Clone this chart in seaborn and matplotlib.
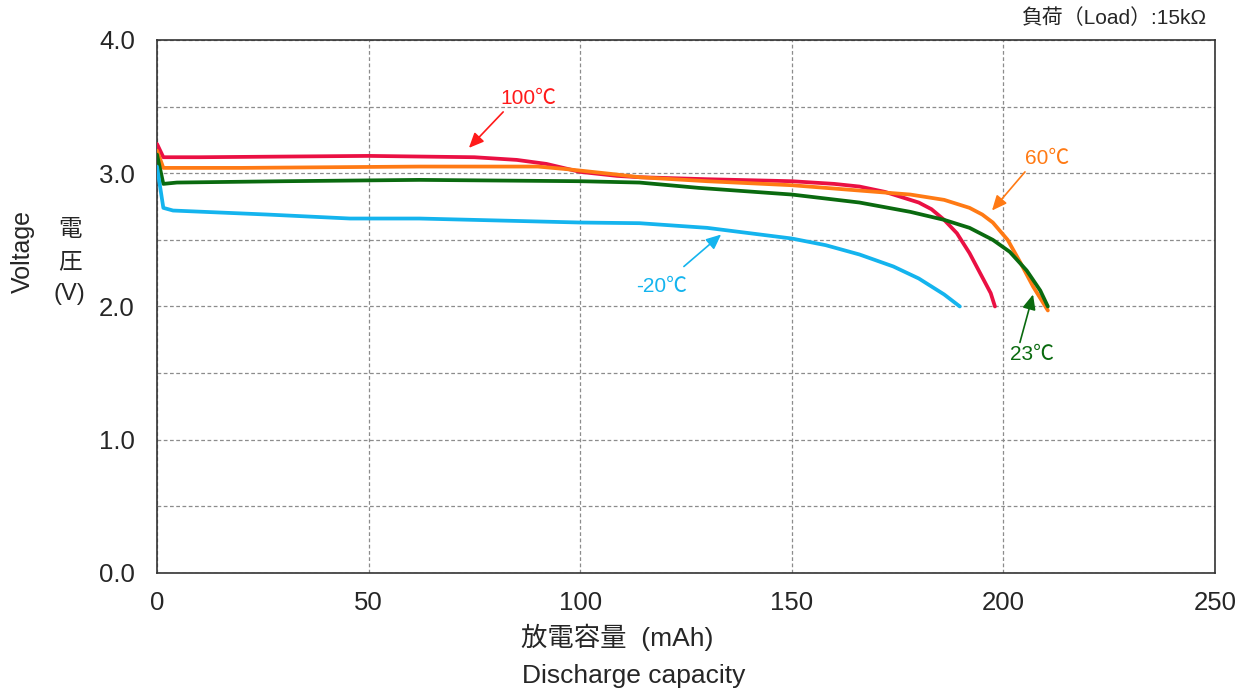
import numpy as np
import pandas as pd
import matplotlib
matplotlib.use("Agg")
import matplotlib.pyplot as plt
import seaborn as sns

# discharge curves (capacity mAh, voltage V)
cap_100 = [0, 1.5, 10, 30, 50, 75, 85, 92, 96, 100, 108.7, 114, 130, 150, 160, 166,
           172, 176, 180, 183, 186, 189, 192, 195, 197, 198]
volt_100 = [3.22, 3.12, 3.12, 3.125, 3.13, 3.12, 3.10, 3.07, 3.04, 3.01, 2.98, 2.97, 2.955, 2.94, 2.92, 2.90,
            2.86, 2.82, 2.78, 2.73, 2.65, 2.55, 2.40, 2.22, 2.10, 2.00]

cap_60 = [0, 1.5, 20, 62, 90, 97, 108.7, 114, 130, 150, 166, 178, 186, 192, 195,
          197.5, 201, 204, 207, 210.5]
volt_60 = [3.17, 3.04, 3.04, 3.05, 3.05, 3.03, 2.99, 2.97, 2.94, 2.91, 2.87, 2.84, 2.80, 2.74, 2.69,
           2.63, 2.50, 2.33, 2.15, 1.97]

cap_23 = [0, 1.5, 4.7, 30, 62, 100, 114, 128, 150, 166, 178, 186, 192, 197.5,
          201.5, 205.5, 208.7, 210.5]
volt_23 = [3.14, 2.92, 2.93, 2.94, 2.95, 2.94, 2.93, 2.89, 2.84, 2.78, 2.71, 2.65, 2.59, 2.50,
           2.41, 2.27, 2.12, 2.00]

cap_m20 = [0, 1.5, 3.8, 26, 45.6, 62, 100, 114, 130, 150, 158, 166, 174, 180, 186, 189.7]
volt_m20 = [3.05, 2.74, 2.72, 2.69, 2.66, 2.66, 2.63, 2.625, 2.59, 2.51, 2.46, 2.39, 2.30, 2.21, 2.09, 2.00]

labels = ["100℃", "60℃", "23℃", "-20℃"]
colors = ["#ea1043", "#ff7a14", "#0a6a0f", "#14b4ee"]
text_colors = ["#ff1a1a", "#ff7a14", "#0a6a0f", "#14b4ee"]

# annotation placement: text (x, y), arrow tail, arrow head
ann_text = [(87.7, 3.56), (210.3, 3.11), (206.8, 1.64), (119.3, 2.15)]
ann_tail = [(81.8, 3.46), (205.1, 3.01), (203.9, 1.73), (124.5, 2.30)]
ann_head = [(73.7, 3.19), (197.3, 2.72), (207.0, 2.09), (133.3, 2.54)]

frames = []
for lab, c, v in zip(labels, [cap_100, cap_60, cap_23, cap_m20],
                     [volt_100, volt_60, volt_23, volt_m20]):
    frames.append(pd.DataFrame({"capacity": c, "voltage": v, "temp": lab}))
df = pd.concat(frames, ignore_index=True)

sns.set_style("white")
plt.rcParams["font.family"] = ["Liberation Sans", "Noto Sans CJK JP", "DejaVu Sans"]

fig = plt.figure(figsize=(12.44, 6.88), dpi=100)
ax = fig.add_axes([0.1262, 0.1672, 0.8505, 0.7747])

sns.lineplot(data=df, x="capacity", y="voltage", hue="temp", hue_order=labels,
             palette=dict(zip(labels, colors)), sort=False, estimator=None,
             linewidth=2.7, legend=False, ax=ax, zorder=3,
             solid_joinstyle="round", solid_capstyle="round")

ax.set_xlim(0, 250)
ax.set_ylim(0, 4.0)
ax.set_xticks(np.arange(0, 251, 50))
ax.set_yticks(np.arange(0, 4.01, 0.5))
ax.set_yticklabels([f"{t:.1f}" if t % 1 == 0 else "" for t in np.arange(0, 4.01, 0.5)])
ax.tick_params(axis="both", labelsize=18.5, length=0)
ax.tick_params(axis="y", pad=16)
ax.tick_params(axis="x", pad=13)
ax.grid(True, color="#8c8c8c", linestyle=(0, (3, 2)), linewidth=0.9)
for s in ax.spines.values():
    s.set_color("#333333")
    s.set_linewidth(1.2)
ax.set_xlabel("")
ax.set_ylabel("")

for lab, tc, t, tail, head in zip(labels, text_colors, ann_text, ann_tail, ann_head):
    ax.text(t[0], t[1], lab, color=tc, fontsize=15, ha="center", va="center")
    ax.annotate("", xy=head, xytext=tail,
                arrowprops=dict(arrowstyle="-|>,head_length=0.9,head_width=0.4",
                                color=tc, lw=1.2, shrinkA=0, shrinkB=0))

fig.text(0.9702, 0.974, "負荷（Load）:15kΩ", fontsize=15, ha="right", va="center")
fig.text(0.018, 0.635, "Voltage", fontsize=18, rotation=90, ha="center", va="center")
fig.text(0.056, 0.619, "電\n圧\n(V)", fontsize=17, ha="center", va="center", linespacing=1.6)
fig.text(0.496, 0.074, "放電容量  (mAh)", fontsize=19, ha="center", va="center")
fig.text(0.509, 0.018, "Discharge capacity", fontsize=19, ha="center", va="center")

fig.savefig("out.png", dpi=100)
